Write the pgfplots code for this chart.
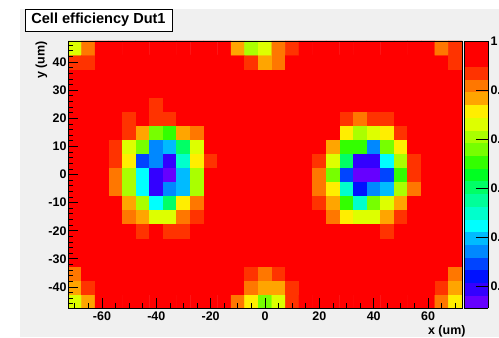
\documentclass[border=0pt]{standalone}
\usepackage{pgfplots}
\pgfplotsset{compat=1.18}
\usepackage{pgfplotstable}
\usepackage{fontspec}
\setmainfont{Liberation Sans}
\definecolor{padgray}{HTML}{F0F0F0}
\pgfplotsset{
  colormap={rootpal}{
    rgb255=(102,0,255) rgb255=(51,0,255) rgb255=(0,17,255) rgb255=(0,68,255)
    rgb255=(0,136,255) rgb255=(0,187,255) rgb255=(0,255,255) rgb255=(0,255,204)
    rgb255=(0,255,153) rgb255=(0,255,102) rgb255=(0,255,34) rgb255=(51,255,0)
    rgb255=(119,255,0) rgb255=(170,255,0) rgb255=(221,255,0) rgb255=(255,238,0)
    rgb255=(255,165,0) rgb255=(255,119,0) rgb255=(255,51,0) rgb255=(255,0,0)
    rgb255=(255,0,0)
  }
}
\pgfplotstableread[row sep=\\]{
x y z\\
-70 -45 0.823\\ -65 -45 0.878\\ -60 -45 0.960\\ -55 -45 1\\ -50 -45 1\\ -45 -45 1\\ -40 -45 1\\ -35 -45 1\\ -30 -45 1\\ -25 -45 1\\ -20 -45 1\\ -15 -45 0.960\\ -10 -45 0.905\\ -5 -45 0.851\\ 0 -45 0.769\\ 5 -45 0.823\\ 10 -45 0.932\\ 15 -45 1\\ 20 -45 1\\ 25 -45 1\\ 30 -45 1\\ 35 -45 1\\ 40 -45 1\\ 45 -45 1\\ 50 -45 1\\ 55 -45 1\\ 60 -45 0.960\\ 65 -45 0.905\\ 70 -45 0.851\\
-70 -40 0.878\\ -65 -40 0.932\\ -60 -40 1\\ -55 -40 1\\ -50 -40 1\\ -45 -40 1\\ -40 -40 1\\ -35 -40 1\\ -30 -40 1\\ -25 -40 1\\ -20 -40 1\\ -15 -40 1\\ -10 -40 0.960\\ -5 -40 0.905\\ 0 -40 0.878\\ 5 -40 0.878\\ 10 -40 0.932\\ 15 -40 0.960\\ 20 -40 1\\ 25 -40 1\\ 30 -40 1\\ 35 -40 1\\ 40 -40 1\\ 45 -40 1\\ 50 -40 1\\ 55 -40 1\\ 60 -40 1\\ 65 -40 0.932\\ 70 -40 0.878\\
-70 -35 0.905\\ -65 -35 1\\ -60 -35 1\\ -55 -35 1\\ -50 -35 1\\ -45 -35 1\\ -40 -35 1\\ -35 -35 1\\ -30 -35 1\\ -25 -35 1\\ -20 -35 1\\ -15 -35 1\\ -10 -35 1\\ -5 -35 0.932\\ 0 -35 0.905\\ 5 -35 0.932\\ 10 -35 0.960\\ 15 -35 1\\ 20 -35 1\\ 25 -35 1\\ 30 -35 1\\ 35 -35 1\\ 40 -35 1\\ 45 -35 1\\ 50 -35 1\\ 55 -35 1\\ 60 -35 1\\ 65 -35 1\\ 70 -35 0.905\\
-70 -30 1\\ -65 -30 1\\ -60 -30 1\\ -55 -30 1\\ -50 -30 1\\ -45 -30 1\\ -40 -30 1\\ -35 -30 1\\ -30 -30 1\\ -25 -30 1\\ -20 -30 1\\ -15 -30 1\\ -10 -30 1\\ -5 -30 1\\ 0 -30 0.960\\ 5 -30 1\\ 10 -30 1\\ 15 -30 1\\ 20 -30 1\\ 25 -30 1\\ 30 -30 1\\ 35 -30 1\\ 40 -30 1\\ 45 -30 1\\ 50 -30 1\\ 55 -30 1\\ 60 -30 1\\ 65 -30 1\\ 70 -30 0.960\\
-70 -25 1\\ -65 -25 1\\ -60 -25 1\\ -55 -25 1\\ -50 -25 1\\ -45 -25 1\\ -40 -25 0.960\\ -35 -25 0.960\\ -30 -25 1\\ -25 -25 1\\ -20 -25 1\\ -15 -25 1\\ -10 -25 1\\ -5 -25 1\\ 0 -25 1\\ 5 -25 1\\ 10 -25 1\\ 15 -25 1\\ 20 -25 1\\ 25 -25 1\\ 30 -25 1\\ 35 -25 1\\ 40 -25 1\\ 45 -25 1\\ 50 -25 1\\ 55 -25 1\\ 60 -25 1\\ 65 -25 1\\ 70 -25 1\\
-70 -20 1\\ -65 -20 1\\ -60 -20 1\\ -55 -20 1\\ -50 -20 0.960\\ -45 -20 0.932\\ -40 -20 0.960\\ -35 -20 0.932\\ -30 -20 0.932\\ -25 -20 1\\ -20 -20 1\\ -15 -20 1\\ -10 -20 1\\ -5 -20 1\\ 0 -20 1\\ 5 -20 1\\ 10 -20 1\\ 15 -20 1\\ 20 -20 1\\ 25 -20 0.960\\ 30 -20 0.960\\ 35 -20 0.960\\ 40 -20 0.960\\ 45 -20 0.932\\ 50 -20 1\\ 55 -20 1\\ 60 -20 0.960\\ 65 -20 1\\ 70 -20 1\\
-70 -15 1\\ -65 -15 1\\ -60 -15 0.960\\ -55 -15 1\\ -50 -15 0.905\\ -45 -15 0.878\\ -40 -15 0.823\\ -35 -15 0.823\\ -30 -15 0.905\\ -25 -15 0.932\\ -20 -15 1\\ -15 -15 1\\ -10 -15 1\\ -5 -15 1\\ 0 -15 1\\ 5 -15 1\\ 10 -15 1\\ 15 -15 1\\ 20 -15 1\\ 25 -15 0.905\\ 30 -15 0.851\\ 35 -15 0.823\\ 40 -15 0.823\\ 45 -15 0.878\\ 50 -15 0.932\\ 55 -15 0.960\\ 60 -15 1\\ 65 -15 1\\ 70 -15 1\\
-70 -10 1\\ -65 -10 1\\ -60 -10 1\\ -55 -10 0.960\\ -50 -10 0.878\\ -45 -10 0.796\\ -40 -10 0.632\\ -35 -10 0.714\\ -30 -10 0.851\\ -25 -10 0.905\\ -20 -10 0.960\\ -15 -10 1\\ -10 -10 1\\ -5 -10 1\\ 0 -10 1\\ 5 -10 1\\ 10 -10 1\\ 15 -10 1\\ 20 -10 0.932\\ 25 -10 0.878\\ 30 -10 0.741\\ 35 -10 0.660\\ 40 -10 0.769\\ 45 -10 0.823\\ 50 -10 0.878\\ 55 -10 0.960\\ 60 -10 1\\ 65 -10 1\\ 70 -10 1\\
-70 -5 1\\ -65 -5 1\\ -60 -5 1\\ -55 -5 0.905\\ -50 -5 0.796\\ -45 -5 0.632\\ -40 -5 0.496\\ -35 -5 0.578\\ -30 -5 0.605\\ -25 -5 0.796\\ -20 -5 0.960\\ -15 -5 1\\ -10 -5 1\\ -5 -5 1\\ 0 -5 1\\ 5 -5 1\\ 10 -5 1\\ 15 -5 1\\ 20 -5 0.905\\ 25 -5 0.851\\ 30 -5 0.660\\ 35 -5 0.523\\ 40 -5 0.578\\ 45 -5 0.605\\ 50 -5 0.796\\ 55 -5 0.905\\ 60 -5 1\\ 65 -5 1\\ 70 -5 1\\
-70 0 1\\ -65 0 1\\ -60 0 1\\ -55 0 0.905\\ -50 0 0.796\\ -45 0 0.632\\ -40 0 0.496\\ -35 0 0.469\\ -30 0 0.605\\ -25 0 0.796\\ -20 0 0.960\\ -15 0 1\\ -10 0 1\\ -5 0 1\\ 0 0 1\\ 5 0 1\\ 10 0 1\\ 15 0 1\\ 20 0 0.905\\ 25 0 0.769\\ 30 0 0.551\\ 35 0 0.469\\ 40 0 0.469\\ 45 0 0.551\\ 50 0 0.741\\ 55 0 0.932\\ 60 0 0.960\\ 65 0 1\\ 70 0 1\\
-70 5 1\\ -65 5 1\\ -60 5 1\\ -55 5 0.932\\ -50 5 0.851\\ -45 5 0.551\\ -40 5 0.578\\ -35 5 0.496\\ -30 5 0.660\\ -25 5 0.851\\ -20 5 0.932\\ -15 5 1\\ -10 5 1\\ -5 5 1\\ 0 5 1\\ 5 5 1\\ 10 5 1\\ 15 5 1\\ 20 5 0.932\\ 25 5 0.823\\ 30 5 0.714\\ 35 5 0.496\\ 40 5 0.496\\ 45 5 0.632\\ 50 5 0.796\\ 55 5 0.932\\ 60 5 1\\ 65 5 1\\ 70 5 1\\
-70 10 1\\ -65 10 1\\ -60 10 1\\ -55 10 0.932\\ -50 10 0.823\\ -45 10 0.769\\ -40 10 0.578\\ -35 10 0.605\\ -30 10 0.714\\ -25 10 0.823\\ -20 10 0.960\\ -15 10 0.960\\ -10 10 1\\ -5 10 1\\ 0 10 1\\ 5 10 1\\ 10 10 1\\ 15 10 1\\ 20 10 0.960\\ 25 10 0.878\\ 30 10 0.741\\ 35 10 0.741\\ 40 10 0.578\\ 45 10 0.769\\ 50 10 0.851\\ 55 10 0.960\\ 60 10 1\\ 65 10 1\\ 70 10 1\\
-70 15 1\\ -65 15 1\\ -60 15 1\\ -55 15 1\\ -50 15 0.932\\ -45 15 0.878\\ -40 15 0.769\\ -35 15 0.741\\ -30 15 0.878\\ -25 15 0.905\\ -20 15 0.960\\ -15 15 1\\ -10 15 1\\ -5 15 1\\ 0 15 1\\ 5 15 1\\ 10 15 1\\ 15 15 1\\ 20 15 1\\ 25 15 0.960\\ 30 15 0.851\\ 35 15 0.796\\ 40 15 0.823\\ 45 15 0.851\\ 50 15 0.932\\ 55 15 0.960\\ 60 15 1\\ 65 15 1\\ 70 15 1\\
-70 20 1\\ -65 20 1\\ -60 20 1\\ -55 20 1\\ -50 20 0.932\\ -45 20 0.960\\ -40 20 0.932\\ -35 20 0.932\\ -30 20 0.960\\ -25 20 1\\ -20 20 1\\ -15 20 1\\ -10 20 1\\ -5 20 1\\ 0 20 1\\ 5 20 1\\ 10 20 1\\ 15 20 1\\ 20 20 1\\ 25 20 1\\ 30 20 0.932\\ 35 20 0.905\\ 40 20 0.932\\ 45 20 0.932\\ 50 20 0.960\\ 55 20 1\\ 60 20 1\\ 65 20 1\\ 70 20 1\\
-70 25 1\\ -65 25 1\\ -60 25 1\\ -55 25 1\\ -50 25 0.960\\ -45 25 1\\ -40 25 0.932\\ -35 25 1\\ -30 25 0.960\\ -25 25 1\\ -20 25 1\\ -15 25 1\\ -10 25 1\\ -5 25 1\\ 0 25 1\\ 5 25 1\\ 10 25 1\\ 15 25 1\\ 20 25 1\\ 25 25 1\\ 30 25 1\\ 35 25 1\\ 40 25 1\\ 45 25 0.960\\ 50 25 1\\ 55 25 1\\ 60 25 1\\ 65 25 1\\ 70 25 1\\
-70 30 1\\ -65 30 1\\ -60 30 1\\ -55 30 1\\ -50 30 1\\ -45 30 1\\ -40 30 1\\ -35 30 1\\ -30 30 1\\ -25 30 1\\ -20 30 1\\ -15 30 1\\ -10 30 1\\ -5 30 1\\ 0 30 0.960\\ 5 30 1\\ 10 30 1\\ 15 30 1\\ 20 30 1\\ 25 30 1\\ 30 30 1\\ 35 30 1\\ 40 30 1\\ 45 30 1\\ 50 30 1\\ 55 30 1\\ 60 30 1\\ 65 30 1\\ 70 30 1\\
-70 35 1\\ -65 35 1\\ -60 35 1\\ -55 35 1\\ -50 35 1\\ -45 35 1\\ -40 35 1\\ -35 35 1\\ -30 35 1\\ -25 35 1\\ -20 35 1\\ -15 35 1\\ -10 35 0.960\\ -5 35 0.960\\ 0 35 1\\ 5 35 1\\ 10 35 1\\ 15 35 1\\ 20 35 1\\ 25 35 1\\ 30 35 1\\ 35 35 1\\ 40 35 1\\ 45 35 1\\ 50 35 1\\ 55 35 1\\ 60 35 1\\ 65 35 1\\ 70 35 0.960\\
-70 40 0.932\\ -65 40 0.932\\ -60 40 1\\ -55 40 1\\ -50 40 1\\ -45 40 1\\ -40 40 1\\ -35 40 1\\ -30 40 1\\ -25 40 1\\ -20 40 1\\ -15 40 1\\ -10 40 0.960\\ -5 40 0.932\\ 0 40 0.878\\ 5 40 0.905\\ 10 40 0.960\\ 15 40 0.960\\ 20 40 1\\ 25 40 1\\ 30 40 1\\ 35 40 1\\ 40 40 1\\ 45 40 1\\ 50 40 1\\ 55 40 1\\ 60 40 1\\ 65 40 0.960\\ 70 40 0.932\\
-70 45 0.823\\ -65 45 0.905\\ -60 45 0.960\\ -55 45 1\\ -50 45 1\\ -45 45 1\\ -40 45 1\\ -35 45 1\\ -30 45 1\\ -25 45 1\\ -20 45 1\\ -15 45 1\\ -10 45 0.878\\ -5 45 0.796\\ 0 45 0.823\\ 5 45 0.905\\ 10 45 0.932\\ 15 45 1\\ 20 45 1\\ 25 45 1\\ 30 45 1\\ 35 45 1\\ 40 45 1\\ 45 45 1\\ 50 45 1\\ 55 45 1\\ 60 45 0.960\\ 65 45 0.905\\ 70 45 0.932\\
}\effdata
\begin{document}
\begin{tikzpicture}[x=1bp,y=1bp]
\useasboundingbox (0,0) rectangle (499,337);
\fill[white] (0,0) rectangle (499,337);
\fill[padgray] (20,0) rectangle (499,328);
\draw[black, line width=0.75bp, fill=white] (25,306) rectangle (172,328);
\node[font=\bfseries\fontsize{14.6}{16}\selectfont] at (98.5,317) {Cell efficiency Dut1};
\begin{axis}[
  at={(68bp,29bp)}, anchor=south west,
  scale only axis, width=394bp, height=267bp,
  xmin=-72.5, xmax=72.5, ymin=-47.5, ymax=47.5,
  colormap name=rootpal, colormap access=piecewise constant,
  point meta min=0.455, point meta max=1,
  axis on top,
  tick pos=left, tick align=inside,
  xtick={-60,-40,-20,0,20,40,60},
  xticklabels={-60,-40,-20,0,20,40,60},
  minor xtick={-70,-65,...,70},
  ytick={-40,-30,-20,-10,0,10,20,30,40},
  yticklabels={-40,-30,-20,-10,0,10,20,30,40},
  minor ytick={-46,-44,...,46},
  major tick length=10bp, minor tick length=5bp,
  every tick/.style={black, line width=0.75bp},
  axis line style={black, line width=0.75bp},
  ticklabel style={font=\bfseries\fontsize{12.5}{14}\selectfont},
  yticklabel style={xshift=2bp},
  xlabel={x (um)}, ylabel={y (um)},
  label style={font=\bfseries\fontsize{12.5}{14}\selectfont},
  xlabel style={at={(axis description cs:1,0)}, anchor=north east, xshift=7bp, yshift=-14bp},
  ylabel style={at={(axis description cs:-0.0914,1.011)}, anchor=north east},
  colorbar,
  colorbar style={
    at={(parent axis.north east)}, anchor=north west, xshift=-6.5bp,
    width=24bp,
    ytick={0.5,0.6,0.7,0.8,0.9,1},
    yticklabels={0.5,0.6,0.7,0.8,0.9,1},
    ytick pos=right, yticklabel pos=right,
    tick align=inside, major tick length=12bp,
    every tick/.style={black, line width=0.75bp},
    axis line style={black, line width=0.75bp},
    yticklabel style={font=\bfseries\fontsize{12.5}{14}\selectfont, xshift=-1bp},
  },
]
\addplot[matrix plot*, mesh/cols=29, point meta=explicit] table[x=x, y=y, meta=z] {\effdata};
\end{axis}
\end{tikzpicture}
\end{document}
